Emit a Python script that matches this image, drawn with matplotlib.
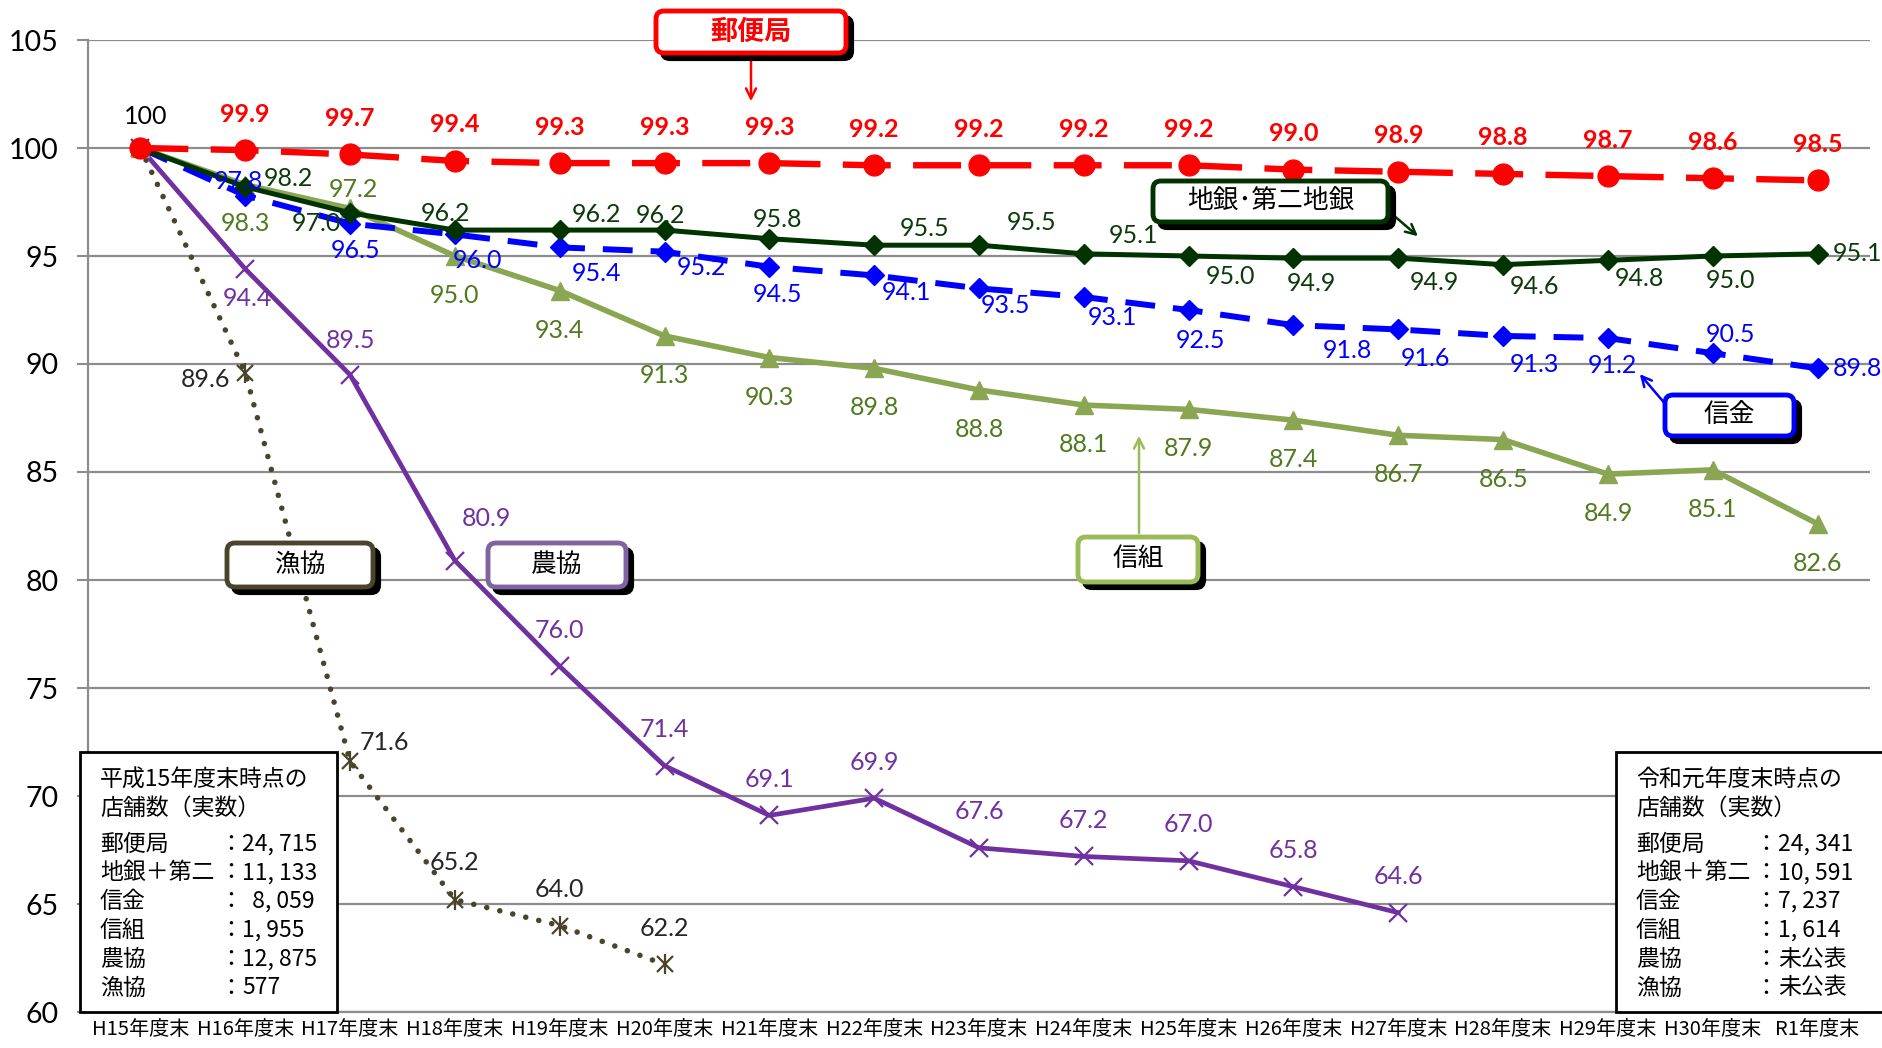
import matplotlib
matplotlib.use('Agg')
import matplotlib.pyplot as plt
from matplotlib.patches import FancyBboxPatch, Rectangle
from matplotlib.transforms import IdentityTransform

# ---------------- data ----------------
categories = ['H15年度末', 'H16年度末', 'H17年度末', 'H18年度末', 'H19年度末', 'H20年度末',
              'H21年度末', 'H22年度末', 'H23年度末', 'H24年度末', 'H25年度末', 'H26年度末',
              'H27年度末', 'H28年度末', 'H29年度末', 'H30年度末', 'R1年度末']
yubin = [100, 99.9, 99.7, 99.4, 99.3, 99.3, 99.3, 99.2, 99.2, 99.2, 99.2, 99.0, 98.9, 98.8, 98.7, 98.6, 98.5]
chigin = [100, 98.2, 97.0, 96.2, 96.2, 96.2, 95.8, 95.5, 95.5, 95.1, 95.0, 94.9, 94.9, 94.6, 94.8, 95.0, 95.1]
shinkin = [100, 97.8, 96.5, 96.0, 95.4, 95.2, 94.5, 94.1, 93.5, 93.1, 92.5, 91.8, 91.6, 91.3, 91.2, 90.5, 89.8]
shinkumi = [100, 98.3, 97.2, 95.0, 93.4, 91.3, 90.3, 89.8, 88.8, 88.1, 87.9, 87.4, 86.7, 86.5, 84.9, 85.1, 82.6]
nokyo = [100, 94.4, 89.5, 80.9, 76.0, 71.4, 69.1, 69.9, 67.6, 67.2, 67.0, 65.8, 64.6]
gyokyo = [100, 89.6, 71.6, 65.2, 64.0, 62.2]
yticks = [60, 65, 70, 75, 80, 85, 90, 95, 100, 105]
base_label = '100'

left_title = ['平成15年度末時点の', '店舗数（実数）']
right_title = ['令和元年度末時点の', '店舗数（実数）']
box_names = ['郵便局', '地銀＋第二', '信金', '信組', '農協', '漁協']
left_values = ['24, 715', '11, 133', '  8, 059', '1, 955', '12, 875', '577']
right_values = ['24, 341', '10, 591', '7, 237', '1, 614', '未公表', '未公表']

# ---------------- layout (label offsets in px of a 1568-wide view) ----------------
off_yubin = [None] + [(0, -30)] * 16
off_chigin = [None, (36, -7), (-28, 9), (-8, -14), (31, -13), (-3, -12), (7, -16), (42, -14), (44, -19),
              (41, -15), (35, 17), (15, 21), (30, 20), (26, 18), (26, 15), (15, 20), (33, 0)]
off_shinkin = [None, (-6, -12), (5, 22), (19, 22), (31, 22), (31, 13), (7, 23), (27, 14), (22, 14),
               (24, 17), (10, 25), (45, 21), (23, 24), (26, 24), (4, 23), (15, -16), (33, 0)]
off_shinkumi = [None, (0, 32), (3, -16)] + [(0, 33)] * 14
off_nokyo = [None, (2, 25), (0, -29), (26, -35)] + [(0, -30)] * 9
off_gyokyo = [None, (-33, 6), (29, -16), (0, -31), (0, -30), (0, -30)]

W, H = 1882, 1048
plt.rcParams['font.family'] = ['Lato', 'Noto Sans CJK JP', 'DejaVu Sans']
JP = ['Noto Sans CJK JP', 'DejaVu Sans']

fig = plt.figure(figsize=(W / 100, H / 100), dpi=100)
fig.patch.set_facecolor('white')
ax = fig.add_axes([88 / W, 1 - 1012 / H, (1870 - 88) / W, (1012 - 40) / H])
ax.set_xlim(-0.5, len(categories) - 0.5)
ax.set_ylim(60, 105)

grid_c = '#8c8c8c'
ax.set_yticks(yticks)
ax.set_yticklabels([str(t) for t in yticks], fontsize=20.5)
ax.yaxis.grid(True, color=grid_c, lw=1.6)
ax.set_axisbelow(True)
ax.tick_params(axis='y', length=8, width=1.5, color=grid_c, pad=13)
ax.set_xticks(range(len(categories)))
ax.set_xticklabels(categories, fontsize=14.5, family=JP)
ax.tick_params(axis='x', length=0, pad=5)
for s in ['top', 'right']:
    ax.spines[s].set_visible(False)
ax.spines['left'].set_color(grid_c)
ax.spines['left'].set_linewidth(1.6)
ax.spines['bottom'].set_color(grid_c)
ax.spines['bottom'].set_linewidth(1.6)

def xs(v):
    return list(range(len(v)))

# 漁協
c_gy = '#4A452A'
ax.plot(xs(gyokyo), gyokyo, color=c_gy, lw=4, linestyle=(0, (0.01, 2.4)), dash_capstyle='round', zorder=3)
ax.plot(xs(gyokyo), gyokyo, color=c_gy, lw=0, marker='x', ms=12, mew=1.6, zorder=3)
ax.plot(xs(gyokyo), gyokyo, color=c_gy, lw=0, marker='|', ms=15, mew=1.6, zorder=3)
# 農協
c_no = '#7030A0'
ax.plot(xs(nokyo), nokyo, color=c_no, lw=3.4, marker='x', ms=13, mew=1.6, zorder=4)
# 信組
c_sk = '#8AA652'
ax.plot(xs(shinkumi), shinkumi, color=c_sk, lw=4, marker='^', ms=13, zorder=5)
# 信金
c_sn = '#0000FF'
ax.plot(xs(shinkin), shinkin, color=c_sn, lw=4.3, linestyle=(0, (5, 3)), marker='D', ms=10, zorder=6)
# 地銀・第二地銀
c_cg = '#003300'
ax.plot(xs(chigin), chigin, color=c_cg, lw=3.6, marker='D', ms=10, zorder=7)
# 郵便局
c_yu = '#FF0000'
ax.plot(xs(yubin), yubin, color=c_yu, lw=4.6, linestyle=(0, (7.5, 3.5)), marker='o', ms=15, zorder=8)

K = 1.2 * 0.72
FS = 18

def labels(vals, offs, color, bold=False):
    for i, v in enumerate(vals):
        o = offs[i]
        if o is None:
            continue
        ax.annotate(f'{v:.1f}', (i, v), xytext=(o[0] * K, -o[1] * K), textcoords='offset points',
                    ha='center', va='center', fontsize=FS, color=color,
                    fontweight='bold' if bold else 'normal', zorder=12, annotation_clip=False)

labels(gyokyo, off_gyokyo, '#262626')
labels(nokyo, off_nokyo, '#7030A0')
labels(shinkumi, off_shinkumi, '#4F7A1E')
labels(shinkin, off_shinkin, '#0000FF')
labels(chigin, off_chigin, '#0B3A0B')
labels(yubin, off_yubin, '#FF0000', bold=True)
ax.annotate(base_label, (0, yubin[0]), xytext=(4 * K, 26 * K), textcoords='offset points',
            ha='center', va='center', fontsize=FS, color='black', zorder=12)

# ---------------- annotation tags ----------------
def tag(x0, y0, x1, y1, ec, text, tcolor='black', bold=False, fs=18.5):
    sh = FancyBboxPatch((x0 + 6, H - y1 - 6), x1 - x0, y1 - y0, boxstyle='round,pad=0,rounding_size=8',
                        transform=IdentityTransform(), fc='black', ec='black', lw=3, zorder=20)
    bx = FancyBboxPatch((x0, H - y1), x1 - x0, y1 - y0, boxstyle='round,pad=0,rounding_size=8',
                        transform=IdentityTransform(), fc='white', ec=ec, lw=3.5, zorder=21)
    fig.add_artist(sh)
    fig.add_artist(bx)
    fig.text((x0 + x1) / 2 / W, 1 - (y0 + y1) / 2 / H, text, ha='center', va='center', color=tcolor,
             fontsize=fs, fontweight='bold' if bold else 'normal', family=JP, zorder=22)

def arrow(x0, y0, x1, y1, color):
    ax.annotate('', xy=(x1, H - y1), xycoords='figure pixels', xytext=(x0, H - y0), textcoords='figure pixels',
                arrowprops=dict(arrowstyle='->', color=color, lw=1.8, mutation_scale=18),
                annotation_clip=False, zorder=19)

arrow(751, 55, 751, 104, '#FF0000')
arrow(1392, 214, 1420, 238, '#003300')
arrow(1667, 406, 1638, 372, '#0000FF')
arrow(1139, 536, 1139, 433, '#9BBB59')

tag(656, 11, 846, 53, '#FF0000', '郵便局', '#FF0000', bold=True, fs=19.5)
tag(1153, 181, 1388, 222, '#003300', '地銀･第二地銀')
tag(1665, 395, 1794, 436, '#0000FF', '信金')
tag(1078, 537, 1198, 582, '#9BBB59', '信組')
tag(488, 543, 626, 587, '#8064A2', '農協')
tag(227, 543, 373, 587, '#4A452A', '漁協')

# ---------------- info boxes ----------------
def info(x0, y0, x1, y1, title, values, xcolon, xval):
    fig.add_artist(Rectangle((x0, H - y1), x1 - x0, y1 - y0, transform=IdentityTransform(),
                             fc='white', ec='black', lw=2, zorder=15))
    ys = [780, 808]
    for t, yy in zip(title, ys):
        fig.text((x0 + 20) / W, 1 - yy / H, t, ha='left', va='center', fontsize=16.5, family=JP, zorder=16)
    for k, (n, v) in enumerate(zip(box_names, values)):
        yy = 844 + k * 28.8
        fig.text((x0 + 20) / W, 1 - yy / H, n, ha='left', va='center', fontsize=16.5, family=JP, zorder=16)
        fig.text(xcolon / W, 1 - yy / H, '：', ha='center', va='center', fontsize=16.5, family=JP, zorder=16)
        fig.text(xval / W, 1 - yy / H, v, ha='left', va='center', fontsize=16.5, family=JP, zorder=16)

info(80, 752, 337, 1012, left_title, left_values, 231, 242)
info(1616, 752, 1884, 1012, right_title, right_values, 1766, 1778)

fig.savefig('out.png', dpi=100, facecolor='white')
